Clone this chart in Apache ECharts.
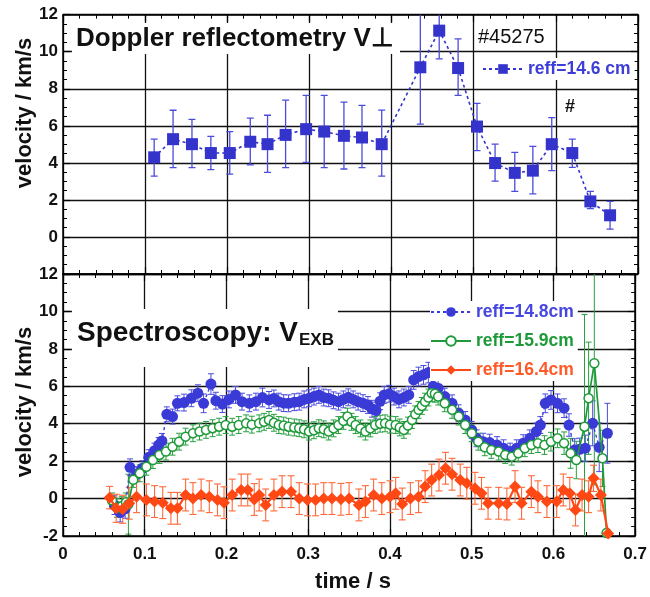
<!DOCTYPE html>
<html>
<head>
<meta charset="utf-8">
<title>velocity vs time</title>
<script src="https://cdn.jsdelivr.net/npm/echarts@6/dist/echarts.min.js"></script>
<style>
  html, body { margin: 0; padding: 0; background: #fff; }
  #chart { width: 650px; height: 597px; }
</style>
</head>
<body>
<div id="chart"></div>
<script>
// ---- Doppler reflectometry, reff=14.6 cm (top panel) ----
const tDop  = [0.111, 0.134, 0.157, 0.180, 0.203, 0.228, 0.249, 0.271, 0.296, 0.318, 0.342, 0.364,
               0.388, 0.435, 0.458, 0.481, 0.504, 0.526, 0.550, 0.572, 0.595, 0.620, 0.642, 0.666];
const vDop  = [4.30, 5.28, 5.01, 4.53, 4.53, 5.14, 5.01, 5.51, 5.82, 5.69, 5.46, 5.37,
               5.01, 9.16, 11.14, 9.12, 5.96, 3.99, 3.46, 3.58, 5.01, 4.53, 1.92, 1.17];
const loDop = [3.28, 3.74, 3.74, 3.64, 3.39, 3.89, 3.49, 3.74, 4.03, 3.74, 3.67, 3.74,
               3.28, 6.09, 9.62, 7.64, 4.66, 3.01, 2.46, 2.33, 3.58, 3.76, 1.53, 0.42];
const hiDop = [5.28, 6.84, 6.35, 5.43, 5.69, 6.42, 6.57, 7.39, 7.64, 7.64, 7.28, 7.10,
               6.85, 12.6, 12.1, 10.69, 7.21, 5.01, 4.57, 4.89, 6.44, 5.28, 2.46, 1.92];

// ---- Spectroscopy V_ExB (bottom panel) ----
// reff = 14.8 cm
const tBlue = [0.063, 0.070, 0.076, 0.082, 0.090, 0.097, 0.105, 0.112, 0.117, 0.121, 0.127, 0.134,
               0.140, 0.148, 0.157, 0.165, 0.172, 0.181, 0.187, 0.195, 0.203, 0.211, 0.219, 0.228,
               0.236, 0.244, 0.252, 0.258, 0.264, 0.270, 0.276, 0.283, 0.289, 0.295, 0.301, 0.307,
               0.313, 0.319, 0.325, 0.331, 0.337, 0.343, 0.349, 0.355, 0.361, 0.367, 0.373, 0.378,
               0.383, 0.388, 0.393, 0.399, 0.405, 0.411, 0.417, 0.423, 0.429, 0.435, 0.441, 0.447,
               0.453, 0.459, 0.467, 0.476, 0.484, 0.492, 0.500, 0.506, 0.514, 0.522, 0.531, 0.539,
               0.547, 0.555, 0.563, 0.571, 0.579, 0.584, 0.590, 0.597, 0.605, 0.613, 0.619, 0.626,
               0.632, 0.639, 0.648, 0.656, 0.666];
const vBlue = [-0.35, -0.75, -0.55, 1.67, 1.30, 1.62, 2.21, 2.56, 2.86, 3.08, 4.50, 4.38,
               5.09, 5.13, 5.36, 5.63, 5.09, 6.12, 5.23, 5.05, 5.30, 5.54, 5.18, 5.09,
               5.18, 5.40, 5.27, 5.35, 5.18, 5.10, 5.09, 5.15, 5.18, 5.30, 5.36, 5.45,
               5.54, 5.40, 5.36, 5.25, 5.18, 5.30, 5.41, 5.30, 5.18, 5.10, 5.00, 4.80,
               4.70, 5.20, 5.54, 5.60, 5.45, 5.30, 5.40, 5.54, 6.34, 6.52, 6.61, 6.73,
               6.00, 5.90, 5.45, 5.09, 4.56, 4.20, 3.67, 3.22, 3.04, 2.99, 2.86, 2.69,
               2.51, 2.69, 2.96, 3.22, 3.58, 3.93, 5.09, 5.27, 5.09, 4.83, 3.93, 2.60,
               2.63, 2.69, 4.02, 2.74, 3.49];
const eBlue = [0.5, 0.5, 0.5, 0.45, 0.4, 0.4, 0.4, 0.4, 0.4, 0.4, 0.4, 0.4,
               0.4, 0.45, 0.45, 0.45, 0.5, 0.55, 0.45, 0.45, 0.45, 0.45, 0.45, 0.45,
               0.45, 0.5, 0.45, 0.45, 0.45, 0.45, 0.45, 0.45, 0.45, 0.45, 0.45, 0.45,
               0.45, 0.45, 0.45, 0.45, 0.45, 0.45, 0.45, 0.45, 0.45, 0.45, 0.45, 0.45,
               0.45, 0.45, 0.45, 0.45, 0.45, 0.45, 0.45, 0.45, 0.5, 0.5, 0.5, 0.55,
               0.5, 0.5, 0.45, 0.45, 0.45, 0.45, 0.45, 0.45, 0.45, 0.45, 0.45, 0.45,
               0.45, 0.45, 0.45, 0.45, 0.45, 0.45, 0.5, 0.5, 0.5, 0.5, 0.6, 0.6,
               0.6, 0.7, 1.2, 1.3, 1.6];

// reff = 15.9 cm
const tGreen = [0.060, 0.066, 0.072, 0.077, 0.080, 0.086, 0.094, 0.102, 0.110, 0.118, 0.126, 0.134,
                0.142, 0.150, 0.159, 0.167, 0.175, 0.183, 0.191, 0.199, 0.207, 0.215, 0.224, 0.231,
                0.240, 0.246, 0.252, 0.258, 0.264, 0.270, 0.276, 0.283, 0.289, 0.295, 0.301, 0.307,
                0.313, 0.319, 0.325, 0.331, 0.337, 0.343, 0.348, 0.353, 0.358, 0.364, 0.370, 0.376,
                0.382, 0.388, 0.394, 0.400, 0.407, 0.412, 0.417, 0.422, 0.427, 0.431, 0.435, 0.439,
                0.443, 0.447, 0.451, 0.455, 0.459, 0.467, 0.476, 0.484, 0.492, 0.500, 0.508, 0.516,
                0.524, 0.533, 0.541, 0.549, 0.557, 0.565, 0.573, 0.581, 0.589, 0.597, 0.605, 0.613,
                0.621, 0.628, 0.638, 0.643, 0.650, 0.660, 0.665];
const vGreen = [-0.10, -0.50, -0.40, -0.20, -0.30, 1.00, 1.35, 1.70, 2.06, 2.33, 2.51, 2.77,
                3.04, 3.31, 3.49, 3.58, 3.67, 3.76, 3.84, 3.93, 3.84, 3.93, 4.02, 3.95,
                4.02, 4.10, 4.20, 4.05, 3.93, 3.90, 3.84, 3.80, 3.76, 3.70, 3.58, 3.65,
                3.76, 3.70, 3.58, 3.75, 3.93, 4.15, 4.38, 4.10, 3.93, 3.75, 3.58, 3.75,
                3.93, 4.00, 4.02, 3.95, 3.93, 3.80, 3.67, 3.90, 4.20, 4.50, 4.74, 4.95,
                5.18, 5.40, 5.63, 5.60, 5.45, 5.09, 4.74, 4.38, 3.93, 3.49, 3.04, 2.74,
                2.60, 2.51, 2.33, 2.24, 2.42, 2.69, 2.86, 2.96, 2.86, 3.04, 3.22, 2.96,
                2.42, 2.06, 3.84, 5.36, 7.23, 2.15, -1.84];
const eGreen = [0.4, 0.5, 0.5, 0.5, 1.6, 0.4, 0.45, 0.45, 0.45, 0.45, 0.45, 0.45,
                0.45, 0.45, 0.45, 0.45, 0.45, 0.45, 0.45, 0.45, 0.45, 0.45, 0.45, 0.45,
                0.45, 0.45, 0.45, 0.45, 0.45, 0.45, 0.45, 0.45, 0.45, 0.45, 0.45, 0.45,
                0.45, 0.45, 0.45, 0.45, 0.45, 0.45, 0.45, 0.45, 0.45, 0.45, 0.45, 0.45,
                0.45, 0.45, 0.45, 0.45, 0.45, 0.45, 0.45, 0.45, 0.45, 0.45, 0.45, 0.45,
                0.45, 0.45, 0.45, 0.45, 0.45, 0.45, 0.45, 0.45, 0.45, 0.45, 0.45, 0.45,
                0.45, 0.45, 0.45, 0.45, 0.45, 0.45, 0.45, 0.5, 0.5, 0.5, 0.5, 0.6,
                0.8, 1.0, 6.0, 3.0, 6.5, 1.5, 0.2];

// reff = 16.4 cm
const tRed = [0.057, 0.065, 0.073, 0.081, 0.090, 0.102, 0.112, 0.122, 0.132, 0.140, 0.150, 0.159,
              0.169, 0.179, 0.189, 0.197, 0.207, 0.218, 0.226, 0.234, 0.240, 0.248, 0.258, 0.268,
              0.279, 0.289, 0.299, 0.309, 0.319, 0.329, 0.340, 0.350, 0.362, 0.370, 0.380, 0.390,
              0.400, 0.407, 0.415, 0.425, 0.435, 0.443, 0.451, 0.460, 0.468, 0.476, 0.486, 0.494,
              0.504, 0.512, 0.520, 0.533, 0.543, 0.553, 0.561, 0.573, 0.581, 0.592, 0.604, 0.612,
              0.620, 0.627, 0.635, 0.643, 0.649, 0.658, 0.667];
const vRed = [0.05, -0.52, -0.57, -0.25, 0.10, -0.07, -0.16, -0.22, -0.52, -0.52, 0.19, 0.00,
              0.19, 0.10, -0.07, -0.22, 0.19, 0.46, 0.46, -0.05, 0.19, -0.34, 0.19, 0.37,
              0.37, 0.00, -0.07, -0.07, 0.00, 0.00, -0.04, 0.00, -0.34, -0.16, 0.19, 0.00,
              0.10, 0.28, -0.29, 0.00, 0.10, 0.64, 0.99, 1.26, 1.62, 1.30, 0.99, 0.82,
              0.55, 0.28, -0.25, -0.25, -0.29, 0.64, -0.25, 0.37, 0.10, -0.16, -0.16, 0.46,
              0.28, -0.61, 0.19, 0.10, 1.08, 0.19, -1.86];
const eRed = [0.6, 0.75, 0.75, 0.85, 0.85, 0.85, 0.85, 0.85, 0.85, 0.85, 0.85, 0.85,
              0.85, 0.85, 0.85, 0.85, 0.85, 0.85, 0.85, 0.85, 0.85, 0.85, 0.85, 0.85,
              0.85, 0.85, 0.85, 0.85, 0.85, 0.85, 0.85, 0.85, 0.85, 0.85, 0.85, 0.85,
              0.85, 0.85, 0.85, 0.85, 0.85, 0.85, 0.85, 0.85, 0.85, 0.85, 0.85, 0.85,
              0.85, 0.85, 0.85, 0.85, 0.85, 0.85, 0.85, 0.85, 0.85, 0.85, 0.85, 0.85,
              0.85, 0.85, 0.85, 0.85, 0.7, 0.85, 0.1];

const FONT = '"Liberation Sans", Arial, sans-serif';
const BLUE = '#3434cc', BLUE2 = '#3a3ad6', GREEN = '#1f9a3a', RED = '#ff4814';

const chart = echarts.init(document.getElementById('chart'));

function pairs(t, v) { return t.map((x, i) => [x, v[i]]); }

// vertical error bar with caps, drawn through the axis scales
function errBars(xi, data, color, cap, width) {
    return {
        type: 'custom', xAxisIndex: xi, yAxisIndex: xi, clip: true, silent: true, z: 2,
        data: data, encode: { x: 0, y: [1, 2] },
        renderItem: function (params, api) {
            const a = api.coord([api.value(0), api.value(1)]);
            const b = api.coord([api.value(0), api.value(2)]);
            const w = cap / 2, st = { stroke: color, lineWidth: width };
            return {
                type: 'group', children: [
                    { type: 'line', shape: { x1: a[0], y1: a[1], x2: b[0], y2: b[1] }, style: st },
                    { type: 'line', shape: { x1: a[0] - w, y1: a[1], x2: a[0] + w, y2: a[1] }, style: st },
                    { type: 'line', shape: { x1: b[0] - w, y1: b[1], x2: b[0] + w, y2: b[1] }, style: st }
                ]
            };
        }
    };
}
function symErr(t, v, e) { return t.map((x, i) => [x, v[i] - e[i], v[i] + e[i]]); }

const tickLabel = { fontFamily: FONT, fontWeight: 'bold', fontSize: 17, color: '#111' };

function xAx(grid, pos, labels) {
    return {
        type: 'value', gridIndex: grid, position: pos, min: 0, max: 0.7, interval: 0.1,
        axisLine: { show: true, onZero: false, lineStyle: { color: '#000', width: 1.5 } },
        axisTick: { show: true, inside: true, length: 7, lineStyle: { color: '#000', width: 1.2 } },
        minorTick: { show: true, splitNumber: 5, length: 4, lineStyle: { color: '#000', width: 1 } },
        axisLabel: Object.assign({ show: labels, margin: 10 }, tickLabel),
        splitLine: { show: pos === 'bottom', lineStyle: { color: '#111', width: 1.3 } }
    };
}
function yAx(grid, pos, fmt) {
    return {
        type: 'value', gridIndex: grid, position: pos, min: -2, max: 12, interval: 2,
        axisLine: { show: true, onZero: false, lineStyle: { color: '#000', width: 1.5 } },
        axisTick: { show: true, inside: true, length: 7, lineStyle: { color: '#000', width: 1.2 } },
        minorTick: { show: true, splitNumber: 4, length: 4, lineStyle: { color: '#000', width: 1 } },
        axisLabel: Object.assign({ show: pos === 'left', margin: 5, formatter: fmt }, tickLabel),
        splitLine: { show: pos === 'left', lineStyle: { color: '#111', width: 1.3 } }
    };
}

const option = {
    animation: false,
    backgroundColor: '#fff',
    grid: [
        { left: 63, right: 12, top: 14.7, height: 259.3 },
        { left: 63, right: 12, top: 274, height: 262 }
    ],
    xAxis: [xAx(0, 'bottom', false), xAx(1, 'bottom', true), xAx(0, 'top', false), xAx(1, 'top', false)],
    yAxis: [
        yAx(0, 'left', v => (v === -2 ? '' : v)),
        yAx(1, 'left', v => v),
        yAx(0, 'right'),
        yAx(1, 'right')
    ],
    legend: [
        {
            data: [{ name: 'reff=14.6 cm', textStyle: { color: '#3d3dd8' } }],
            left: 482, top: 58, itemWidth: 40, itemHeight: 12, padding: [2, 4, 2, 0],
            backgroundColor: '#fff', selectedMode: false, z: 20,
            textStyle: { fontFamily: FONT, fontWeight: 'bold', fontSize: 17.5 }
        },
        {
            data: [
                { name: 'reff=14.8cm', textStyle: { color: '#4646e0' } },
                { name: 'reff=15.9cm', textStyle: { color: '#1f9a3a' } },
                { name: 'reff=16.4cm', textStyle: { color: '#ff5a28' } }
            ],
            orient: 'vertical', left: 430, top: 301, itemWidth: 40, itemHeight: 12, itemGap: 11,
            padding: [2, 4, 2, 0], backgroundColor: '#fff', selectedMode: false, z: 20,
            textStyle: { fontFamily: FONT, fontWeight: 'bold', fontSize: 17.5 }
        }
    ],
    graphic: [
        { type: 'rect', z: 10, shape: { x: 72, y: 23, width: 328, height: 31 }, style: { fill: '#fff' } },
        { type: 'rect', z: 10, shape: { x: 72, y: 309, width: 266, height: 58 }, style: { fill: '#fff' } },
        {
            type: 'text', z: 11, x: 76, y: 39,
            style: { text: 'Doppler reflectometry V\u22A5', font: 'bold 26px ' + FONT, fill: '#111',
                     textAlign: 'left', textVerticalAlign: 'middle' }
        },
        {
            type: 'text', z: 11, x: 478, y: 37,
            style: { text: '#45275', font: '20px ' + FONT, fill: '#111', textAlign: 'left', textVerticalAlign: 'middle' }
        },
        {
            type: 'text', z: 11, x: 565, y: 107,
            style: { text: '#', font: 'bold 18px ' + FONT, fill: '#111', textAlign: 'left', textVerticalAlign: 'middle' }
        },
        {
            type: 'text', z: 11, x: 77, y: 333,
            style: {
                text: '{a|Spectroscopy: V}{b|EXB}', textAlign: 'left', textVerticalAlign: 'middle',
                rich: {
                    a: { font: 'bold 28px ' + FONT, fill: '#111', color: '#111', lineHeight: 32 },
                    b: { font: 'bold 17px ' + FONT, fill: '#111', color: '#111', lineHeight: 32, padding: [15, 0, 0, 1] }
                }
            }
        },
        {
            type: 'text', z: 11, x: 25, y: 113, rotation: Math.PI / 2,
            style: { text: 'velocity / km/s', font: 'bold 22px ' + FONT, fill: '#111', textAlign: 'center', textVerticalAlign: 'middle' }
        },
        {
            type: 'text', z: 11, x: 25, y: 402, rotation: Math.PI / 2,
            style: { text: 'velocity / km/s', font: 'bold 22px ' + FONT, fill: '#111', textAlign: 'center', textVerticalAlign: 'middle' }
        },
        {
            type: 'text', z: 11, x: 353, y: 582,
            style: { text: 'time / s', font: 'bold 22px ' + FONT, fill: '#111', textAlign: 'center', textVerticalAlign: 'middle' }
        }
    ],
    series: [
        errBars(0, tDop.map((x, i) => [x, loDop[i], hiDop[i]]), '#4b4bdc', 7, 1.3),
        {
            name: 'reff=14.6 cm', type: 'line', xAxisIndex: 0, yAxisIndex: 0, z: 3,
            data: pairs(tDop, vDop), symbol: 'rect', symbolSize: 12,
            itemStyle: { color: BLUE },
            lineStyle: { color: BLUE, width: 1.6, type: [3, 3] }
        },
        errBars(1, symErr(tBlue, vBlue, eBlue), '#4a4ae0', 6, 1),
        {
            name: 'reff=14.8cm', type: 'line', xAxisIndex: 1, yAxisIndex: 1, z: 3,
            data: pairs(tBlue, vBlue), symbol: 'circle', symbolSize: 11,
            itemStyle: { color: BLUE2 },
            lineStyle: { color: BLUE2, width: 1.4, type: [3, 3] }
        },
        errBars(1, symErr(tGreen, vGreen, eGreen), '#27a040', 6, 1),
        {
            name: 'reff=15.9cm', type: 'line', xAxisIndex: 1, yAxisIndex: 1, z: 4,
            data: pairs(tGreen, vGreen), symbol: 'circle', symbolSize: 9,
            itemStyle: { color: '#fff', borderColor: GREEN, borderWidth: 1.5 },
            lineStyle: { color: GREEN, width: 1.7 }
        },
        errBars(1, symErr(tRed, vRed, eRed), '#ff6a3a', 7, 1.1),
        {
            name: 'reff=16.4cm', type: 'line', xAxisIndex: 1, yAxisIndex: 1, z: 5,
            data: pairs(tRed, vRed), symbol: 'diamond', symbolSize: 12,
            itemStyle: { color: RED },
            lineStyle: { color: RED, width: 2.2 }
        }
    ]
};
chart.setOption(option);
</script>
</body>
</html>
